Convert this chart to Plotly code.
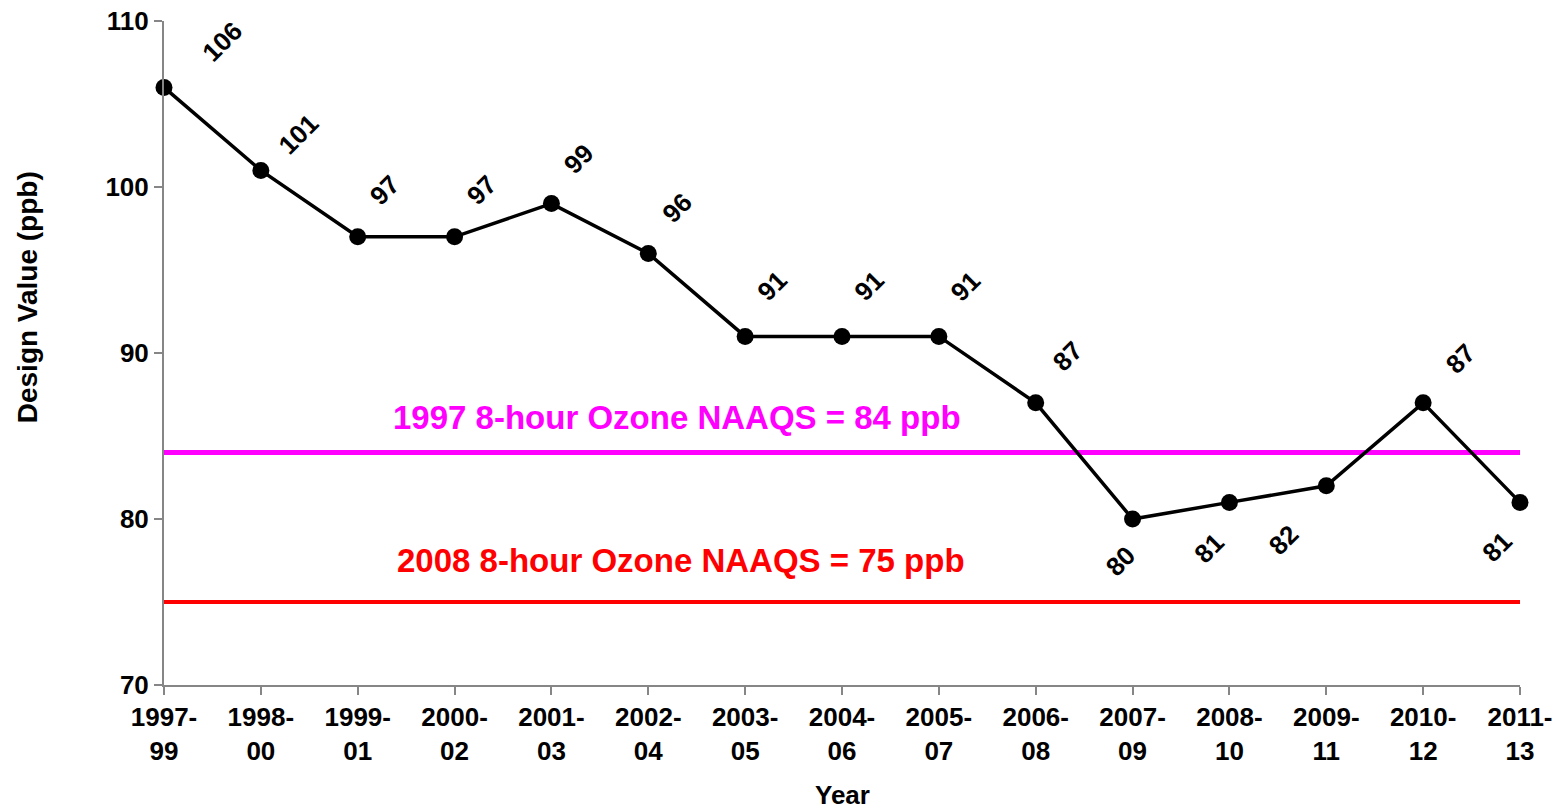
import plotly.graph_objects as go

years = ["1997-99", "1998-00", "1999-01", "2000-02", "2001-03", "2002-04", "2003-05",
         "2004-06", "2005-07", "2006-08", "2007-09", "2008-10", "2009-11", "2010-12", "2011-13"]
design_values = [106, 101, 97, 97, 99, 96, 91, 91, 91, 87, 80, 81, 82, 87, 81]
naaqs_1997 = 84
naaqs_2008 = 75
tick_labels = [y.replace("-", "-<br>") for y in years]

# label offsets (pixels) for each data label
label_shift = [(58, 45), (38, 36), (27, 47), (27, 47), (27, 45), (29, 45), (27, 50),
               (27, 50), (27, 50), (32, 47), (-12, -42), (-20, -46), (-43, -54), (37, 44), (-23, -45)]

FONT = "Liberation Sans, Arial, sans-serif"

fig = go.Figure()

fig.add_trace(go.Scatter(x=[years[0], years[-1]], y=[naaqs_1997, naaqs_1997], mode="lines",
                         line=dict(color="#FF00FF", width=5), hoverinfo="skip"))
fig.add_trace(go.Scatter(x=[years[0], years[-1]], y=[naaqs_2008, naaqs_2008], mode="lines",
                         line=dict(color="#FF0000", width=4), hoverinfo="skip"))
fig.add_trace(go.Scatter(x=years, y=design_values, mode="lines+markers",
                         line=dict(color="black", width=3.5),
                         marker=dict(color="black", size=17), cliponaxis=False))

for i, (yr, v) in enumerate(zip(years, design_values)):
    dx, dy = label_shift[i]
    fig.add_annotation(x=yr, y=v, text=str(v), showarrow=False, textangle=-45,
                       xshift=dx, yshift=dy,
                       font=dict(family=FONT, size=26, color="black", weight="bold"))

fig.add_annotation(xref="paper", x=0.378, y=naaqs_1997, yshift=35, text="1997 8-hour Ozone NAAQS = 84 ppb",
                   showarrow=False, font=dict(family=FONT, size=33, color="#FF00FF", weight="bold"))
fig.add_annotation(xref="paper", x=0.381, y=naaqs_2008, yshift=42, text="2008 8-hour Ozone NAAQS = 75 ppb",
                   showarrow=False, font=dict(family=FONT, size=33, color="#FF0000", weight="bold"))

fig.add_annotation(xref="paper", yref="paper", x=0.5, y=-0.166, yanchor="middle",
                   text="Year", showarrow=False,
                   font=dict(family=FONT, size=26, color="black", weight="bold"))
fig.add_annotation(xref="paper", yref="paper", x=-0.101, xanchor="center", y=0.584, yanchor="middle",
                   text="Design Value (ppb)", textangle=-90, showarrow=False,
                   font=dict(family=FONT, size=28, color="black", weight="bold"))

fig.update_layout(
    width=1566, height=811,
    margin=dict(l=164, r=46, t=21, b=126, autoexpand=False),
    paper_bgcolor="white", plot_bgcolor="white",
    showlegend=False,
    font=dict(family=FONT, color="black"),
    xaxis=dict(type="category", categoryorder="array", categoryarray=years,
               range=[0, 14], tickmode="array", tickvals=years, ticktext=tick_labels,
               automargin=False,
               showgrid=False, zeroline=False, showline=True, linecolor="#868686", linewidth=2,
               ticks="outside", ticklen=8, tickcolor="#868686", tickwidth=1.5,
               tickfont=dict(family=FONT, size=26, color="black", weight="bold")),
    yaxis=dict(range=[70, 110], dtick=10, tick0=70, automargin=False,
               showgrid=False, zeroline=False, showline=True, linecolor="#868686", linewidth=2,
               ticks="outside", ticklen=8, tickcolor="#868686", tickwidth=1.5,
               tickfont=dict(family=FONT, size=26, color="black", weight="bold")),
)

fig.write_html("out.html", config={"displayModeBar": False},
               post_script="document.body.style.margin='0';")
